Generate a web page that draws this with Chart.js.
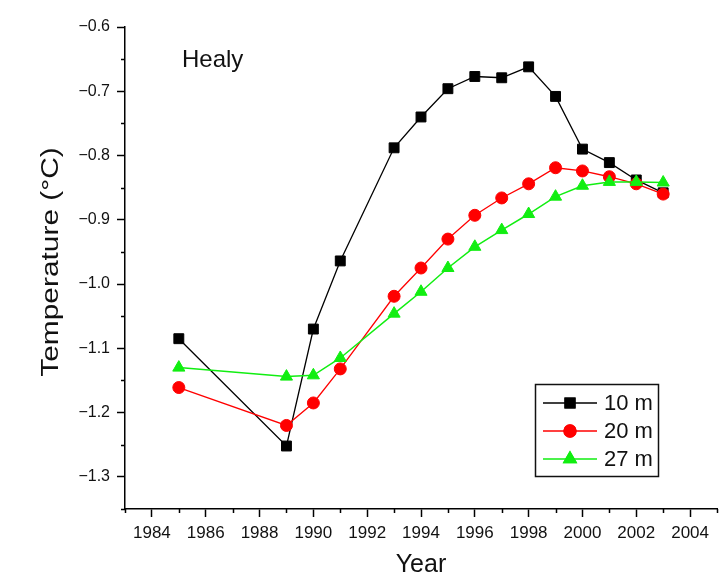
<!DOCTYPE html>
<html>
<head>
<meta charset="utf-8">
<script src="https://cdn.jsdelivr.net/npm/chart.js@4/dist/chart.umd.min.js"></script>
<style>
  html, body { margin: 0; padding: 0; background: #ffffff; }
  #wrap { width: 725px; height: 583px; }
</style>
</head>
<body>
<div id="wrap"><canvas id="c" width="725" height="583"></canvas></div>
<script>
// Healy borehole: mean annual temperature at three depths
const years  = [1985, 1989, 1990, 1991, 1993, 1994, 1995, 1996, 1997, 1998, 1999, 2000, 2001, 2002, 2003];
const temp10 = [-1.085, -1.252, -1.070, -0.964, -0.788, -0.740, -0.696, -0.677, -0.679, -0.662, -0.708, -0.790, -0.811, -0.838, -0.858];
const temp20 = [-1.161, -1.220, -1.185, -1.132, -1.019, -0.975, -0.930, -0.893, -0.866, -0.844, -0.819, -0.824, -0.833, -0.844, -0.860];
const temp27 = [-1.130, -1.144, -1.142, -1.115, -1.046, -1.012, -0.975, -0.942, -0.916, -0.891, -0.864, -0.847, -0.841, -0.841, -0.842];

const seriesLabels = ['10 m', '20 m', '27 m'];
const xMajorTicks = [1984, 1986, 1988, 1990, 1992, 1994, 1996, 1998, 2000, 2002, 2004];
const xMinorTicks = [1983, 1985, 1987, 1989, 1991, 1993, 1995, 1997, 1999, 2001, 2003, 2005];
const yMajorTicks = [-1.3, -1.2, -1.1, -1.0, -0.9, -0.8, -0.7, -0.6];
const yMinorTicks = [-1.35, -1.25, -1.15, -1.05, -0.95, -0.85, -0.75, -0.65];
const siteName = 'Healy';
const yTitle = 'Temperature (°C)';

const FONT = "'Liberation Sans', Arial, sans-serif";

function pts(vals) { return years.map((y, i) => ({ x: y, y: vals[i] })); }
function fmtY(v) { return (v < 0 ? '\u2212' : '') + Math.abs(v).toFixed(1); }

// minor ticks, y title, site label and framed legend
const extras = {
  id: 'extras',
  afterDraw(chart) {
    const ctx = chart.ctx;
    const xs = chart.scales.x, ys = chart.scales.y;
    const ca = chart.chartArea;
    ctx.save();
    ctx.strokeStyle = '#000';
    ctx.lineWidth = 1.5;
    ctx.beginPath();
    xMinorTicks.forEach(v => {
      const px = Math.round(xs.getPixelForValue(v)) + 0.5;
      ctx.moveTo(px, ca.bottom);
      ctx.lineTo(px, ca.bottom + 4);
    });
    yMinorTicks.forEach(v => {
      const py = Math.round(ys.getPixelForValue(v)) + 0.5;
      ctx.moveTo(ca.left, py);
      ctx.lineTo(ca.left - 4, py);
    });
    ctx.stroke();

    // vertical axis title, drawn a little elongated along its run
    ctx.save();
    ctx.translate(52, 262);
    ctx.rotate(-Math.PI / 2);
    ctx.scale(1.3, 1);
    ctx.fillStyle = '#111';
    ctx.font = '23px ' + FONT;
    ctx.textAlign = 'center';
    ctx.textBaseline = 'middle';
    ctx.fillText(yTitle, 0, 0);
    ctx.restore();

    // site name
    ctx.fillStyle = '#111';
    ctx.font = '24px ' + FONT;
    ctx.textAlign = 'left';
    ctx.textBaseline = 'middle';
    ctx.fillText(siteName, 182, 60);

    // legend box
    const bx = 535, by = 384, bw = 123, bh = 92;
    ctx.lineWidth = 1.5;
    ctx.strokeStyle = '#111';
    ctx.strokeRect(bx + 0.5, by + 0.5, bw, bh);
    const rowY = [403, 431, 459];
    chart.data.datasets.forEach((ds, i) => {
      const y = rowY[i];
      ctx.strokeStyle = ds.borderColor;
      ctx.lineWidth = ds.borderWidth;
      ctx.beginPath();
      ctx.moveTo(543, y);
      ctx.lineTo(597, y);
      ctx.stroke();
      Chart.helpers.drawPoint(ctx, {
        pointStyle: ds.pointStyle,
        radius: ds.pointRadius,
        rotation: 0,
        borderWidth: 1
      }, 570, y);
      ctx.fillStyle = ds.backgroundColor;
      ctx.strokeStyle = ds.borderColor;
      ctx.fill();
      ctx.stroke();
      ctx.fillStyle = '#111';
      ctx.font = '22px ' + FONT;
      ctx.textAlign = 'left';
      ctx.textBaseline = 'middle';
      ctx.fillText(ds.label, 604, y + 1);
    });
    ctx.restore();
  }
};

new Chart(document.getElementById('c'), {
  type: 'line',
  data: {
    datasets: [
      { label: seriesLabels[0], data: pts(temp10), borderColor: '#000000', backgroundColor: '#000000',
        pointStyle: 'rect', pointRadius: 7, pointBorderWidth: 1, borderWidth: 1.3, order: 3 },
      { label: seriesLabels[1], data: pts(temp20), borderColor: '#ff0000', backgroundColor: '#ff0000',
        pointStyle: 'circle', pointRadius: 6, pointBorderWidth: 1, borderWidth: 1.3, order: 2 },
      { label: seriesLabels[2], data: pts(temp27), borderColor: '#11ee11', backgroundColor: '#11ee11',
        pointStyle: 'triangle', pointRadius: 7, pointBorderWidth: 1, borderWidth: 1.5, order: 1 }
    ]
  },
  options: {
    responsive: false,
    animation: false,
    layout: { padding: { top: 27, right: 5, left: 0, bottom: 0 } },
    plugins: { legend: { display: false }, tooltip: { enabled: false } },
    elements: { line: { tension: 0 } },
    scales: {
      x: {
        type: 'linear',
        min: 1983, max: 2005,
        afterBuildTicks: s => { s.ticks = xMajorTicks.map(v => ({ value: v })); },
        afterFit: s => { s.height = 74; },
        border: { display: true, color: '#000', width: 1.5 },
        grid: { display: true, drawOnChartArea: false, drawTicks: true, tickLength: 8, tickColor: '#000', tickWidth: 1.5 },
        ticks: { autoSkip: false, maxRotation: 0, padding: 6, color: '#111',
                 font: { family: FONT, size: 17 }, callback: v => String(v) },
        title: { display: true, text: 'Year', color: '#111', font: { family: FONT, size: 25 }, padding: { top: 0, bottom: 3 } }
      },
      y: {
        type: 'linear',
        min: -1.35, max: -0.6,
        afterBuildTicks: s => { s.ticks = yMajorTicks.map(v => ({ value: v })); },
        afterFit: s => { s.width = 125; },
        border: { display: true, color: '#000', width: 1.5 },
        grid: { display: true, drawOnChartArea: false, drawTicks: true, tickLength: 8, tickColor: '#000', tickWidth: 1.5 },
        ticks: { padding: 7, color: '#111', font: { family: FONT, size: 16 }, callback: v => fmtY(v) },
        title: { display: false }
      }
    }
  },
  plugins: [extras]
});
</script>
</body>
</html>
